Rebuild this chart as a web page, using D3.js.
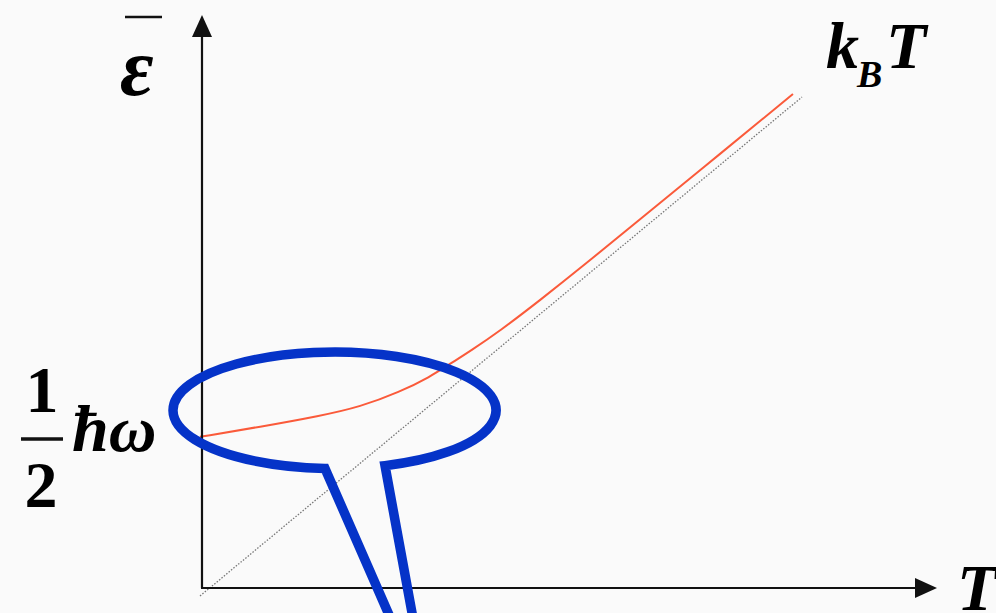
<!DOCTYPE html>
<html>
<head>
<meta charset="utf-8">
<script src="https://cdn.jsdelivr.net/npm/d3@7"></script>
<style>
  html, body { margin: 0; padding: 0; background: #fafafa; }
  svg { display: block; }
  .sym { font-family: "Liberation Serif", "Times New Roman", serif; font-weight: bold; fill: #000; }
</style>
</head>
<body>
<svg id="chart" width="996" height="613"></svg>
<script>
// Mean oscillator energy versus temperature, with the classical k_B·T line.
const temperature = [0, 1.0, 2.0, 2.66, 3.32, 3.82, 4.15, 4.49, 4.98, 5.65, 6.36, 7.36, 8.64, 9.85];
const meanEnergy  = [3.19, 3.39, 3.61, 3.79, 4.09, 4.39, 4.65, 4.91, 5.31, 5.93, 6.61, 7.60, 8.86, 10.06];
const classicalT  = [0, 10];
const classicalE  = [0, 10];

const W = 996, H = 613;
const svg = d3.select("#chart");

svg.append("rect").attr("width", W).attr("height", H).attr("fill", "#fafafa");

const x = d3.scaleLinear().domain([0, 10]).range([200, 802]);
const y = d3.scaleLinear().domain([0, 10]).range([596, 97]);

const axisX0 = 202, axisY0 = 588;   // corner of the axes
const axisTopY = 15, axisRightX = 937;
const ink = "#111";

// classical limit  ε = k_B T  (dotted)
const line = d3.line().x(d => x(d[0])).y(d => y(d[1]));
svg.append("path")
  .attr("d", line(d3.zip(classicalT, classicalE)))
  .attr("fill", "none")
  .attr("stroke", "#777")
  .attr("stroke-width", 1.3)
  .attr("stroke-dasharray", "1.5 1.6");

// quantum mean energy curve
const curve = d3.line().curve(d3.curveBasis).x(d => x(d[0])).y(d => y(d[1]));
svg.append("path")
  .attr("d", curve(d3.zip(temperature, meanEnergy)))
  .attr("fill", "none")
  .attr("stroke", "#fa5a3a")
  .attr("stroke-width", 2);

// axes with arrow heads
svg.append("line").attr("x1", axisX0).attr("y1", axisY0).attr("x2", axisX0).attr("y2", axisTopY + 18)
  .attr("stroke", ink).attr("stroke-width", 2.2);
svg.append("line").attr("x1", axisX0 - 1).attr("y1", axisY0).attr("x2", axisRightX - 18).attr("y2", axisY0)
  .attr("stroke", ink).attr("stroke-width", 2.2);
svg.append("path")
  .attr("d", `M${axisX0},${axisTopY} L${axisX0 - 10},${axisTopY + 22} L${axisX0 + 10},${axisTopY + 22} Z`)
  .attr("fill", ink);
svg.append("path")
  .attr("d", `M${axisRightX},${axisY0} L${axisRightX - 22},${axisY0 - 10} L${axisRightX - 22},${axisY0 + 10} Z`)
  .attr("fill", ink);

// callout around the low-temperature region
const cx = 334.5, cy = 410.3, rx = 161.5, ry = 58.3;
const onEllipse = px => [px, cy + ry * Math.sqrt(1 - ((px - cx) / rx) ** 2)];
const leftCorner = onEllipse(325), rightCorner = onEllipse(385);
const calloutPath = d3.path();
calloutPath.moveTo(400, 640);
calloutPath.lineTo(leftCorner[0], leftCorner[1]);
const callout = calloutPath.toString() +
  ` A${rx},${ry} 0 1 1 ${rightCorner[0]},${rightCorner[1]} L417,640`;
svg.append("path")
  .attr("d", callout)
  .attr("fill", "none")
  .attr("stroke", "#0533c8")
  .attr("stroke-width", 9.5)
  .attr("stroke-linejoin", "miter")
  .attr("stroke-miterlimit", 10);

// labels
// ε with overbar
svg.append("text").attr("class", "sym").attr("font-style", "italic")
  .attr("x", 120).attr("y", 95).attr("font-size", 82).text("ε");
svg.append("line").attr("x1", 125).attr("x2", 162).attr("y1", 17).attr("y2", 17)
  .attr("stroke", ink).attr("stroke-width", 2.5);

// k_B T
const kT = svg.append("text").attr("class", "sym").attr("font-style", "italic").attr("font-size", 66);
kT.append("tspan").attr("x", 826).attr("y", 68).text("k");
kT.append("tspan").attr("x", 857).attr("y", 87).attr("font-size", 38).text("B");
kT.append("tspan").attr("x", 886).attr("y", 68).text("T");

// ½ ħω
svg.append("text").attr("class", "sym").attr("x", 42).attr("y", 412)
  .attr("font-size", 66).attr("text-anchor", "middle").text("1");
svg.append("line").attr("x1", 21).attr("x2", 63).attr("y1", 439).attr("y2", 439)
  .attr("stroke", ink).attr("stroke-width", 3.5);
svg.append("text").attr("class", "sym").attr("x", 41).attr("y", 507)
  .attr("font-size", 66).attr("text-anchor", "middle").text("2");
svg.append("text").attr("class", "sym").attr("font-style", "italic")
  .attr("x", 72).attr("y", 451).attr("font-size", 66).text("ħω");

// T on the horizontal axis
svg.append("text").attr("class", "sym").attr("font-style", "italic")
  .attr("x", 957).attr("y", 610).attr("font-size", 66).text("T");
</script>
</body>
</html>
